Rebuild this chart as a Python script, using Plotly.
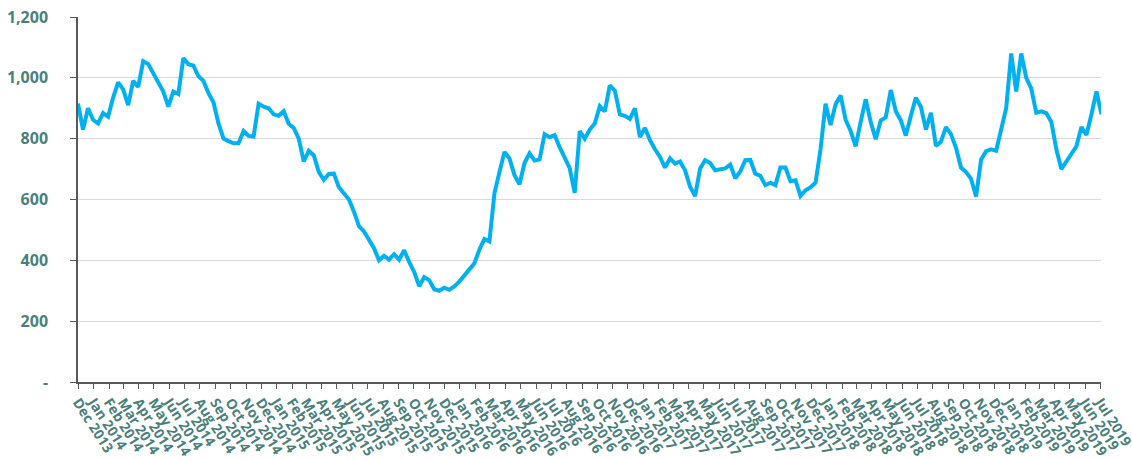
import pandas as pd
import plotly.graph_objects as go

# Series sampled every 10 days from 1 Dec 2013
start_date = "2013-12-01"
step_days = 10
values = [
    915, 830, 900, 862, 850, 884, 872, 935, 985, 962,
    910, 990, 970, 1055, 1045, 1015, 985, 955, 905, 955,
    947, 1065, 1045, 1040, 1005, 990, 950, 920, 850, 800,
    792, 785, 785, 825, 809, 807, 915, 905, 900, 880,
    875, 890, 849, 835, 800, 725, 760, 745, 690, 665,
    684, 685, 640, 622, 600, 560, 512, 495, 470, 440,
    400, 415, 402, 420, 402, 433, 395, 362, 315, 345,
    335, 305, 300, 310, 303, 314, 330, 350, 368, 390,
    435, 470, 462, 620, 690, 756, 735, 680, 650, 720,
    752, 728, 732, 815, 805, 812, 772, 740, 703, 622,
    825, 800, 830, 850, 907, 890, 975, 958, 880, 875,
    865, 900, 805, 835, 795, 765, 740, 705, 735, 718,
    725, 696, 642, 611, 702, 729, 720, 696, 700, 702,
    715, 670, 692, 729, 730, 685, 678, 647, 655, 647,
    705, 705, 660, 663, 612, 630, 640, 655, 765, 915,
    845, 913, 942, 862, 825, 775, 855, 930, 855, 798,
    860, 870, 960, 890, 860, 810, 875, 935, 905, 830,
    885, 776, 790, 838, 815, 770, 705, 690, 668, 610,
    731, 759, 765, 760, 830, 900, 1080, 955, 1080, 1000,
    965, 885, 890, 884, 855, 765, 700, 725, 752, 775,
    838, 812, 880, 955, 880,
]
dates = pd.date_range(start_date, periods=len(values), freq=f"{step_days}D")

# Axis ticks
month_ticks = pd.date_range("2013-12-01", "2019-07-01", freq="MS")
month_labels = [d.strftime("%b %Y") for d in month_ticks]
y_tickvals = [0, 200, 400, 600, 800, 1000, 1200]
y_ticktext = ["-", "200", "400", "600", "800", "1,000", "1,200"]

label_color = "#4a7f7b"
axis_color = "#595959"

fig = go.Figure()
fig.add_trace(go.Scatter(
    x=dates, y=values, mode="lines",
    line=dict(color="#00B0F0", width=4),
    hoverinfo="x+y", showlegend=False,
))

fig.update_layout(
    width=1132, height=459,
    margin=dict(l=78, r=31, t=17, b=77, autoexpand=False),
    paper_bgcolor="white", plot_bgcolor="white",
    font=dict(family="Open Sans", color=label_color),
)
fig.update_xaxes(
    type="date", automargin=False,
    range=["2013-12-01", "2019-07-02"],
    tickvals=list(month_ticks), ticktext=month_labels,
    tickangle=57, ticklabeloverflow="allow",
    tickfont=dict(family="Open Sans", size=14, color=label_color, weight="bold"),
    showline=True, linecolor=axis_color, linewidth=1.5,
    ticks="outside", ticklen=5, tickcolor=axis_color, tickwidth=1.2,
    showgrid=False, zeroline=False,
)
fig.update_yaxes(
    range=[0, 1200], automargin=False,
    tickvals=y_tickvals, ticktext=y_ticktext,
    tickfont=dict(family="Open Sans", size=16, color=label_color, weight="bold"),
    showline=True, linecolor=axis_color, linewidth=1.5,
    ticks="outside", ticklen=6, tickcolor=axis_color, tickwidth=1.2,
    showgrid=True, gridcolor="#d9d9d9", gridwidth=1,
    zeroline=False, ticklabelstandoff=19,
)

fig.write_html(
    "out.html",
    config={"displayModeBar": False},
    post_script="document.body.style.margin='0';document.body.style.overflow='hidden';",
)
